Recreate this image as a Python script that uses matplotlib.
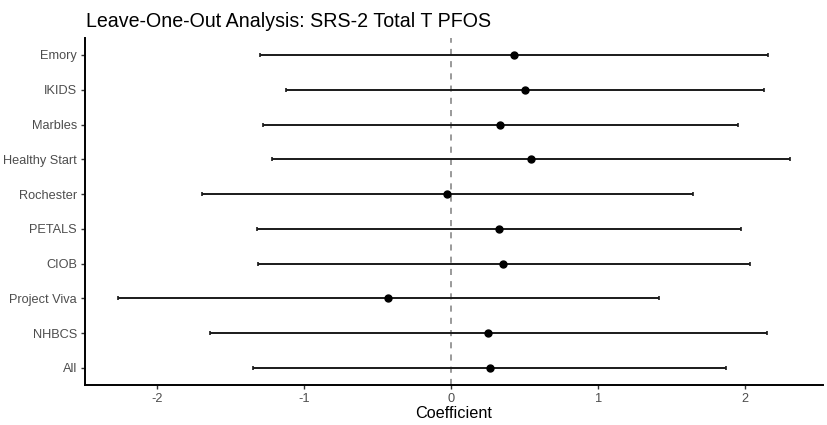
import matplotlib
matplotlib.use("Agg")
import matplotlib.pyplot as plt

cohorts = ["Emory", "IKIDS", "Marbles", "Healthy Start", "Rochester",
           "PETALS", "CIOB", "Project Viva", "NHBCS", "All"]
estimate = [0.428, 0.500, 0.330, 0.541, -0.026, 0.323, 0.355, -0.430, 0.251, 0.262]
lower = [-1.299, -1.122, -1.283, -1.222, -1.696, -1.324, -1.317, -2.270, -1.642, -1.349]
upper = [2.155, 2.125, 1.950, 2.304, 1.644, 1.971, 2.032, 1.415, 2.146, 1.873]
xticks = [-2, -1, 0, 1, 2]

plt.rcParams['font.family'] = ['Liberation Sans', 'DejaVu Sans']

fig = plt.figure(figsize=(8.28, 4.25), dpi=100)
ax = fig.add_axes([0.1023, 0.0934, 0.8917, 0.8181])

n = len(cohorts)
ypos = list(range(n, 0, -1))

ax.axvline(0, color='#7f7f7f', linestyle=(0, (4, 4)), linewidth=1.1, zorder=1)
ax.errorbar(estimate, ypos,
            xerr=[[e - l for e, l in zip(estimate, lower)],
                  [u - e for e, u in zip(estimate, upper)]],
            fmt='o', color='black', ecolor='#1a1a1a', elinewidth=1.4,
            capsize=1.5, capthick=1.2, markersize=5, zorder=3)

ax.set_xlim(-2.495, 2.53)
ax.set_ylim(0.5, 10.5)
ax.set_yticks(ypos)
ax.set_yticklabels(cohorts)
ax.set_xticks(xticks)
ax.set_xticklabels([str(t) for t in xticks])

for s in ['top', 'right']:
    ax.spines[s].set_visible(False)
for s in ['left', 'bottom']:
    ax.spines[s].set_linewidth(1.4)
    ax.spines[s].set_color('black')

ax.tick_params(axis='both', colors='#333333', labelcolor='#4d4d4d',
               labelsize=9.2, length=3, width=1.0, pad=2.5)

ax.set_xlabel("Coefficient", fontsize=11.7, color='black', labelpad=1)
fig.text(0.1035, 0.937, "Leave-One-Out Analysis: SRS-2 Total T PFOS",
         fontsize=14.1, color='black', ha='left', va='baseline')

fig.savefig("out.png", dpi=100)
